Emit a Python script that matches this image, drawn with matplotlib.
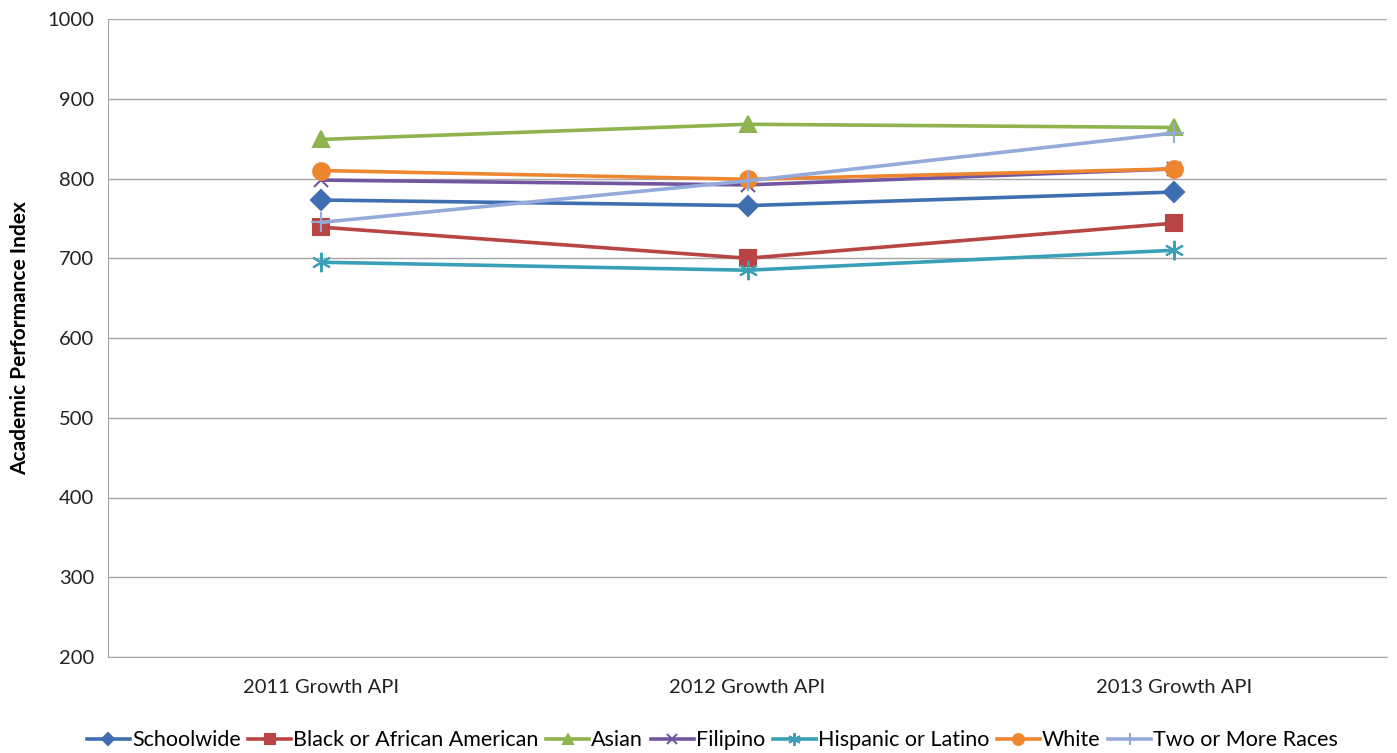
import matplotlib.pyplot as plt
import numpy as np

years = ['2011 Growth API', '2012 Growth API', '2013 Growth API']

schoolwide = [773, 766, 783]
black = [739, 700, 744]
asian = [849, 868, 864]
filipino = [798, 792, 812]
hispanic = [695, 685, 710]
white = [810, 799, 812]
two_or_more = [745, 797, 857]

plt.rcParams['font.family'] = ['Lato', 'DejaVu Sans']

fig = plt.figure(figsize=(13.97, 7.53), dpi=100)
ax = fig.add_axes([108 / 1397, 1 - 657 / 753, 1279 / 1397, 638 / 753])

x = np.arange(len(years))
series = [
    ('Schoolwide', schoolwide, '#3F6FB0', 'D', 10, True),
    ('Black or African American', black, '#B84543', 's', 11, True),
    ('Asian', asian, '#8FB34E', '^', 12, True),
    ('Filipino', filipino, '#7257A0', 'x', 10, False),
    ('Hispanic or Latino', hispanic, '#3AA0B8', (6, 2, 0), 14, False),
    ('White', white, '#EE8630', 'o', 12, True),
    ('Two or More Races', two_or_more, '#93AADB', '+', 14, False),
]
for name, vals, col, mk, ms, filled in series:
    ax.plot(x, vals, color=col, lw=2.6, marker=mk, ms=ms,
            mew=1.5, mfc=col if filled else 'none', mec=col, label=name)

ax.set_xlim(-0.5, 2.5)
ax.set_ylim(200, 1000)
ax.set_yticks(range(200, 1001, 100))
ax.set_xticks(x)
ax.set_xticklabels(years)
ax.tick_params(axis='both', labelsize=14.5, length=0, colors='#222222')
ax.tick_params(axis='y', pad=10)
ax.tick_params(axis='x', pad=16)
ax.yaxis.grid(True, color='#A6A6A6', lw=1)
ax.set_axisbelow(True)
for s in ['top', 'right']:
    ax.spines[s].set_visible(False)
ax.spines['left'].set_color('#A6A6A6')
ax.spines['bottom'].set_color('#A6A6A6')
ax.set_ylabel('Academic Performance Index', fontsize=15, fontweight='bold', labelpad=12)

fig.legend(loc='lower center', bbox_to_anchor=(0.51, -0.012), ncol=7, frameon=False,
           fontsize=15.5, handlelength=2.0, handletextpad=0.1, columnspacing=0.35,
           markerscale=0.65, borderaxespad=0.15)

fig.savefig('out.png', dpi=100)
